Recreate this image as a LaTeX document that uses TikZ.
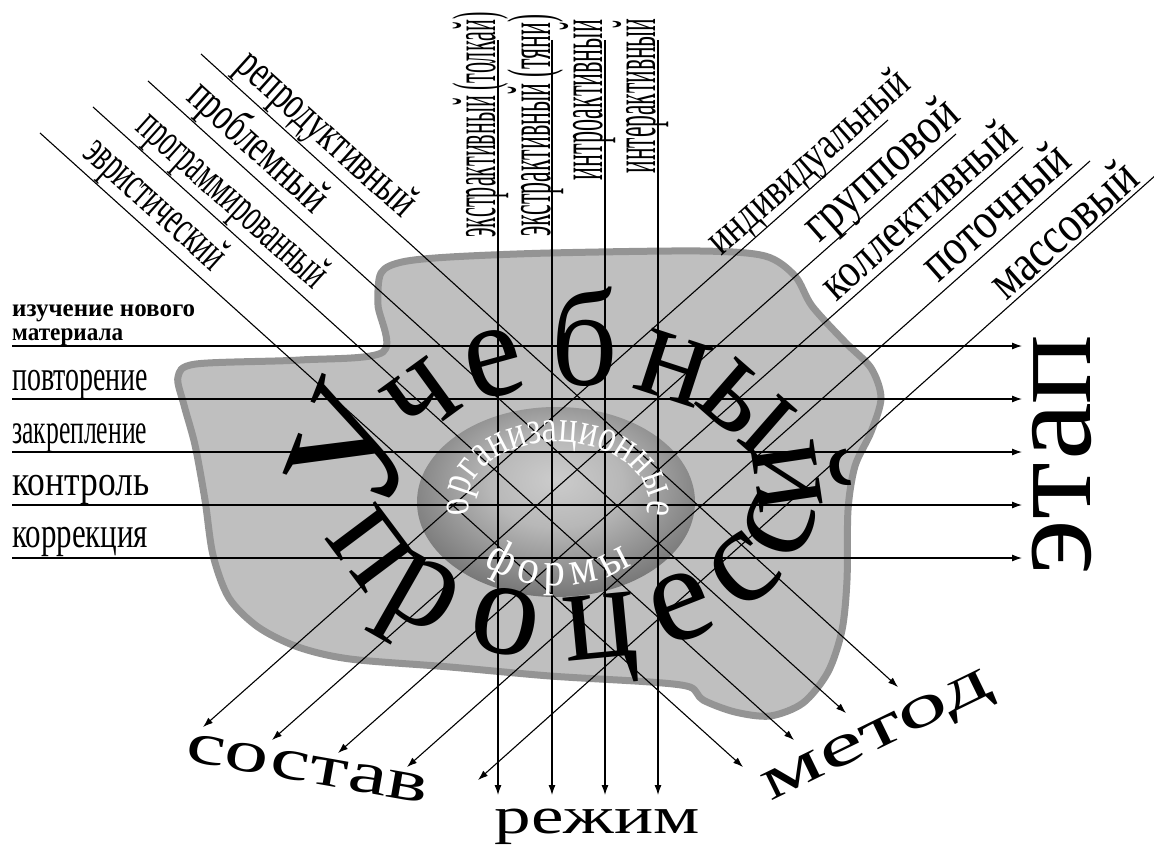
\documentclass[tikz,border=0pt]{standalone}
\usepackage{fontspec}
\setmainfont{Liberation Serif}
\newfontfamily\condfont[FakeStretch=0.75]{Liberation Serif}
\newfontfamily\narfont[FakeStretch=0.9]{Liberation Serif}
\newfontfamily\bigfont[FakeStretch=0.95]{Liberation Serif}
\usetikzlibrary{arrows.meta,decorations.text}
\newsavebox\yibox
\newcommand\yi{\leavevmode\sbox\yibox{и}\makebox[\wd\yibox]{\rlap{и}\hfill\char"02D8\hfill}}
\newcommand\fw[3]{\resizebox{#1pt}{\height}{\fontsize{#2}{#2}\selectfont #3}}
\pgfdeclareradialshading{orgshade}{\pgfpoint{0bp}{6bp}}{color(0bp)=(black!20); color(12bp)=(black!28); color(32bp)=(black!58); color(50bp)=(black!72); color(100bp)=(black!72)}
\begin{document}
\begin{tikzpicture}[x=1pt,y=-1pt,
  conn/.style={line width=1.1pt,-{Latex[length=10pt,width=7pt]}},
  lab/.style={inner sep=0pt,anchor=base},
  big/.style={inner sep=0pt,anchor=base,font=\bigfont\fontsize{138}{138}\selectfont},
  bigb/.style={inner sep=0pt,anchor=base,font=\fontsize{138}{138}\selectfont}]
\useasboundingbox (0,0) rectangle (1154,845);
\fill[white] (0,0) rectangle (1154,845);
% blob
\filldraw[fill=black!25,draw=black!42,line width=7pt,line join=round]
 plot[smooth cycle,tension=0.5] coordinates {(378,305) (381,273) (402,262) (450,257) (550,253) (700,251) (765,256) (795,276) (812,306) (845,342) (871,368) (881,398) (871,432) (855,466) (848,510) (847,580) (842,630) (828,672) (803,703) (770,716) (735,712) (703,700) (690,687) (650,682) (550,676) (450,667) (350,659) (298,647) (258,627) (229,598) (213,555) (205,500) (195,445) (184,405) (178,377) (196,364) (300,360) (383,352)};
% inner ellipse
\shade[shading=orgshade] (556,502) ellipse [x radius=139,y radius=95];
% big circular text: top
\begin{scope}[shift={(578,490)},y=1pt]
 \node[big,font=\bigfont\fontsize{168}{168}\selectfont,rotate={atan2(-105*cos(167),178*sin(167))}] (bu) at (167:178 and 105) {У};
 \foreach \c/\t in {ч/141,е/115,б/88,н/61,ы/34,\yi/5}{
   \pgfmathsetmacro\r{atan2(-105*cos(\t),178*sin(\t))}
   \node[big,rotate=\r] (bt\t) at (\t:178 and 105) {\c};}
\end{scope}
% big circular text: bottom
\begin{scope}[shift={(568,490)},y=1pt]
 \foreach \c/\t in {п/207,р/230,о/254,ц/278,е/300,с/322,с/344}{
   \pgfmathsetmacro\r{atan2(170*cos(\t),-250*sin(\t))}
   \node[bigb,rotate=\r] (bb\t) at (\t:250 and 170) {\c};}
\end{scope}
% horizontal lines
\foreach \i/\y in {1/346,2/399,3/452,4/505,5/558}{
  \coordinate (hs\i) at (12,\y); \coordinate (he\i) at (1022,\y);
  \draw[conn] (hs\i) -- (he\i);}
% vertical lines
\foreach \i/\x in {1/498,2/552,3/605,4/658}{
  \coordinate (vs\i) at (\x,40); \coordinate (ve\i) at (\x,795);
  \draw[conn] (vs\i) -- (ve\i);}
% left diagonal lines (to method)
\foreach \i/\a/\b/\c/\d in {1/40/133/743/767,2/93/107/794/740,3/148/81/846/713,4/201/54/898/687}{
  \coordinate (ms\i) at (\a,\b); \coordinate (me\i) at (\c,\d);
  \draw[conn] (ms\i) -- (me\i);}
% right diagonal lines (to composition)
\foreach \i/\a/\b/\c/\d in {1/888/120/203/727,2/956/134/272/740,3/1023/147/338/753,4/1090/161/407/767,5/1157/174/478/780}{
  \coordinate (ss\i) at (\a,\b); \coordinate (se\i) at (\c,\d);
  \draw[conn] (ss\i) -- (se\i);}
% inner text
\begin{scope}[shift={(558,502)},y=1pt]
 \path[decorate,decoration={text along path,text align={fit to path},
   text={|\condfont\fontsize{46}{46}\selectfont\color{white}|организационные}}]
   (192:90 and 60) arc[start angle=192,end angle=-12,x radius=90,y radius=60];
 \path[decorate,decoration={text along path,text align={fit to path},
   text={|\narfont\fontsize{48}{48}\selectfont\color{white}|формы}}]
   (228:110 and 84) arc[start angle=228,end angle=312,x radius=110,y radius=84];
\end{scope}
% stage labels
\node[lab,anchor=base west] (l0a) at (12,316) {\fw{183}{25}{\bfseries изучение нового}};
\node[lab,anchor=base west] (l0b) at (12,340) {\fw{111}{25}{\bfseries материала}};
\node[lab,anchor=base west] (l1) at (12,390) {\fw{136}{43}{повторение}};
\node[lab,anchor=base west] (l2) at (12,443) {\fw{135}{42}{закрепление}};
\node[lab,anchor=base west] (l3) at (12,495) {\fw{137}{43}{контроль}};
\node[lab,anchor=base west] (l4) at (12,547) {\fw{136}{43}{коррекция}};
% mode labels
\node[lab,rotate=90] (v1) at (495,125) {\fw{225}{62}{экстрактивны\yi{} (толка\yi)}};
\node[lab,rotate=90] (v2) at (550,126) {\fw{222}{62}{экстрактивны\yi{} (тяни)}};
\node[lab,rotate=90] (v3) at (602,100) {\fw{160}{62}{интроактивны\yi}};
\node[lab,rotate=90] (v4) at (655,96) {\fw{155}{62}{интерактивны\yi}};
% method labels
\node[lab,rotate=-42] (m1) at (147,214) {\fw{175}{48}{эвристически\yi}};
\node[lab,rotate=-42] (m2) at (224,210) {\fw{240}{48}{программированны\yi}};
\node[lab,rotate=-42] (m3) at (249,157) {\fw{172}{48}{проблемны\yi}};
\node[lab,rotate=-42] (m4) at (318,144) {\fw{225}{48}{репродуктивны\yi}};
% composition labels
\node[lab,rotate=41.5] (s1) at (817,172) {\fw{255}{46}{индивидуальны\yi}};
\node[lab,rotate=41.5] (s2) at (891,181) {\fw{190}{52}{группово\yi}};
\node[lab,rotate=41.5] (s3) at (928,221) {\fw{245}{48}{коллективны\yi}};
\node[lab,rotate=41.5] (s4) at (1006,224) {\fw{180}{52}{поточны\yi}};
\node[lab,rotate=41.5] (s5) at (1074,242) {\fw{180}{52}{массовы\yi}};
% titles
\node[lab,rotate=-10] (sostav) at (305,782) {\fw{245}{59}{состав}};
\node[lab] (rezhim) at (597,833) {\fw{205}{52}{режим}};
\node[lab,rotate=26] (metod) at (883,747) {\fw{250}{60}{метод}};
\node[lab,rotate=90] (etap) at (1090,455) {\fw{240}{124}{этап}};
\end{tikzpicture}
\end{document}
